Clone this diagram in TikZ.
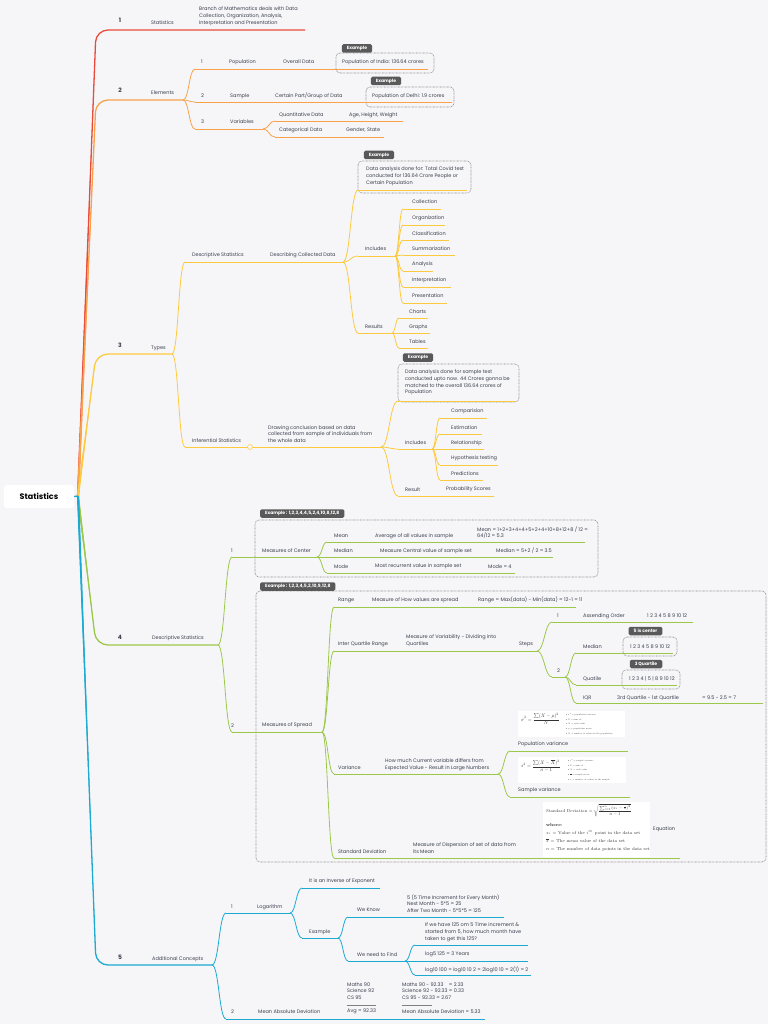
\documentclass[tikz,border=0pt]{standalone}
\usepackage{amsmath}
\usepackage{fontspec}
\newfontfamily\pop{Poppins}
\usetikzlibrary{calc}
\definecolor{bg}{HTML}{F6F6F9}
\definecolor{cred}{HTML}{EA4A3B}
\definecolor{corange}{HTML}{F9A24A}
\definecolor{cyellow}{HTML}{FDCA3E}
\definecolor{cgreen}{HTML}{9CC84A}
\definecolor{cteal}{HTML}{1AAAD2}
\definecolor{txt}{HTML}{3B3F4C}
\definecolor{tabc}{HTML}{595959}
\definecolor{boxc}{HTML}{8A8A8A}
\tikzset{
  lbl/.style={font=\pop\fontsize{5}{6.8}\selectfont, text=txt, inner sep=0pt, anchor=west, align=left},
  numl/.style={font=\pop\bfseries\fontsize{6}{7}\selectfont, text=txt, inner sep=0pt, anchor=center},
  br/.style={line width=0.8pt},
  mainbr/.style={line width=1.3pt, rounded corners=12pt},
  tabst/.style={fill=tabc, rounded corners=1.5pt, text=white, font=\pop\bfseries\fontsize{4.5}{5}\selectfont, inner xsep=5pt, inner ysep=0pt, minimum height=8.5pt, anchor=center},
  exbox/.style={draw=boxc, line width=0.6pt, dash pattern=on 0.7pt off 0.7pt, rounded corners=4pt},
  img/.style={fill=white, draw=none, inner sep=0pt, anchor=north west},
  rootst/.style={fill=white, rounded corners=3pt, minimum width=70pt, minimum height=23pt, font=\pop\bfseries\fontsize{8}{9}\selectfont, text=black},
  mathlbl/.style={inner sep=0pt, anchor=west, align=left, text=black!80},
  sep/.style={gray, line width=0.4pt, dash pattern=on 0.5pt off 0.5pt},
}
\newcommand\topic[8]{%
  \draw[br,#2] (#3,#5) coordinate (#1s) -- (#4,#5) coordinate (#1e);
  \node[lbl] (#1) at (#6,#7) {#8};}
\newcommand\conn[3]{%
  \draw[br,#1] let \p1=(#2), \p2=(#3), \n1={0.5*(\x2-\x1)} in
    (\p1) .. controls +(\n1,0) and +(-\n1,0) .. (\p2);}
\newcommand\mainbranch[4]{%
  \fill[#1] ($(hub)+(-1.1,0)$) -- ($(hub)!0.9!(96,#2)$) -- ($(hub)+(1.1,0)$) -- cycle;
  \draw[mainbr,#1] (hub) -- (96,#2) -- (#3,#2) coordinate (#4);}
\begin{document}
\begin{tikzpicture}[x=1pt,y=-1pt]
\fill[bg] (0,0) rectangle (768,1024);
\useasboundingbox (0,0) rectangle (768,1024);
\coordinate (hub) at (78,496);

% example boxes
\draw[exbox] (336,53) rectangle (434,73);
\draw[exbox] (366,87) rectangle (454,107);
\draw[exbox] (358,161) rectangle (471,193);
\draw[exbox] (398,364) rectangle (519,402);
\draw[exbox] (255,520) rectangle (598,577);
\draw[exbox] (256,591) rectangle (766,862);
\draw[exbox] (623,637) rectangle (677,656);
\draw[exbox] (622,670) rectangle (680,689);

% main branches
\mainbranch{cred}{30}{305}{b1e}
\mainbranch{corange}{100}{183}{b2e}
\mainbranch{cyellow}{354}{172}{b3e}
\mainbranch{cgreen}{645}{218}{b4e}
\mainbranch{cteal}{965}{212}{b5e}
\node[rootst] (root) at (39,496.5) {Statistics};
\draw[cteal,line width=1.3pt] (root.east) -- (hub);

\node[numl] (n1) at (120,20.5) {1};
\node[lbl] (t1) at (151,23) {Statistics};
\node[lbl] (t1d) at (199,16) {Branch of Mathematics deals with Data\\Collection, Organization, Analysis,\\Interpretation and Presentation};
\node[numl] (n2) at (120,90.5) {2};
\node[lbl] (t2) at (151,93) {Elements};
\node[numl] (n3) at (120,345.5) {3};
\node[lbl] (t3) at (151,348) {Types};
\node[numl] (n4) at (120,637) {4};
\node[lbl] (t4) at (152,638.5) {Descriptive Statistics};
\node[numl] (n5) at (120,957) {5};
\node[lbl] (t5) at (152,959.5) {Additional Concepts};

% ---- Elements
\topic{e1}{corange}{195}{428}{69}{201}{62}{1}
\node[lbl] (e1a) at (229,62) {Population};
\node[lbl] (e1b) at (283,62) {Overall Data};
\node[lbl] (e1c) at (342,62.5) {Population of India: 136.64 crores};
\node[tabst] (tabA) at (357,48.5) {Example};
\topic{e2}{corange}{195}{452}{102}{201}{96}{2}
\node[lbl] (e2a) at (230,96) {Sample};
\node[lbl] (e2b) at (275,96) {Certain Part/Group of Data};
\node[lbl] (e2c) at (372,96.5) {Population of Delhi: 1.9 crores};
\node[tabst] (tabB) at (386,81) {Example};
\topic{e3}{corange}{195}{263}{129}{201}{122}{3}
\node[lbl] (e3a) at (230,122) {Variables};
\topic{q1}{corange}{275}{403}{121}{279}{115}{Quantitative Data}
\node[lbl] (q1a) at (349,115) {Age, Height, Weight};
\topic{q2}{corange}{275}{384}{137}{279}{130.5}{Categorical Data}
\node[lbl] (q2a) at (346,130.5) {Gender, State};
\conn{corange}{b2e}{e1s}
\conn{corange}{b2e}{e2s}
\conn{corange}{b2e}{e3s}
\conn{corange}{e3e}{q1s}
\conn{corange}{e3e}{q2s}

% ---- Types
\topic{ds}{cyellow}{185}{343}{262}{192}{255}{Descriptive Statistics}
\node[lbl] (ds2) at (270,255) {Describing Collected Data};
\topic{dsx}{cyellow}{358}{467}{190}{366}{176}{Data analysis done for: Total Covid test\\conducted for 136.64 Crore People or\\Certain Population}
\node[tabst] (tabC) at (379,155) {Example};
\topic{inc}{cyellow}{358}{395}{256}{365}{249}{Includes}
\topic{c1}{cyellow}{403}{441}{209}{412}{202}{Collection}
\topic{c2}{cyellow}{403}{445}{225}{412}{218}{Organization}
\topic{c3}{cyellow}{403}{449}{240}{412}{233.5}{Classification}
\topic{c4}{cyellow}{403}{455}{255}{412}{249}{Summarization}
\topic{c5}{cyellow}{403}{433}{271}{412}{264.5}{Analysis}
\topic{c6}{cyellow}{403}{451}{287}{412}{280}{Interpretation}
\topic{c7}{cyellow}{403}{447}{303}{412}{296}{Presentation}
\topic{res}{cyellow}{358}{392}{333}{365}{327}{Results}
\topic{r1}{cyellow}{399}{428}{318}{409}{311.5}{Charts}
\topic{r2}{cyellow}{399}{430}{333}{409}{327}{Graphs}
\topic{r3}{cyellow}{399}{428}{348}{409}{342}{Tables}
\conn{cyellow}{b3e}{dss}
\conn{cyellow}{dse}{dsxs}
\conn{cyellow}{dse}{incs}
\conn{cyellow}{dse}{ress}
\foreach \k in {1,...,7}{\conn{cyellow}{ince}{c\k s}}
\foreach \k in {1,2,3}{\conn{cyellow}{rese}{r\k s}}

\topic{inf}{cyellow}{185}{381}{447}{192}{441}{Inferential Statistics}
\node[lbl] (inf2) at (268,434) {Drawing conclusion based on data\\collected from sample of individuals from\\the whole data};
\node[draw=cyellow, fill=bg, circle, inner sep=0pt, minimum size=5pt, line width=0.5pt] (infc) at (250,447) {};
\topic{ifx}{cyellow}{398}{516}{401}{405}{382.5}{Data analysis done for sample test\\conducted upto now. 44 Crores gonna be\\matched to the overall 136.64 crores of\\Population}
\node[tabst] (tabD) at (418,357.5) {Example};
\topic{inctwo}{cyellow}{398}{432}{449}{405}{443}{Includes}
\topic{i1}{cyellow}{440}{487}{418}{451}{411}{Comparision}
\topic{i2}{cyellow}{440}{482}{434}{451}{428}{Estimation}
\topic{i3}{cyellow}{440}{484}{449}{451}{443}{Relationship}
\topic{i4}{cyellow}{440}{498}{465}{451}{458.5}{Hypothesis testing}
\topic{i5}{cyellow}{440}{483}{480}{451}{474}{Predictions}
\topic{rs}{cyellow}{398}{494}{496}{405}{489.5}{Result}
\node[lbl] (rs2) at (446,489.5) {Probability Scores};
\conn{cyellow}{b3e}{infs}
\conn{cyellow}{infe}{ifxs}
\conn{cyellow}{infe}{inctwos}
\conn{cyellow}{infe}{rss}
\foreach \k in {1,...,5}{\conn{cyellow}{inctwoe}{i\k s}}

% ---- Descriptive statistics
\topic{mc}{cgreen}{232}{317}{557}{231}{550.5}{1}
\node[lbl] (mc2) at (262,551) {Measures of Center};
\node[tabst, anchor=west] (tabE) at (260,513.5) {Example : 1,2,3,4,4,5,2,4,10,8,12,8};
\topic{mean}{cgreen}{327}{585}{542}{334}{536}{Mean}
\node[lbl] (mean2) at (375,536) {Average of all values in sample};
\node[lbl] (mean3) at (477,532.5) {Mean = 1+2+3+4+4+5+2+4+10+8+12+8 / 12 =\\64/12 = 5.3};
\topic{med}{cgreen}{327}{553}{557}{334}{551}{Median}
\node[lbl] (med2) at (380,551) {Measure Central value of sample set};
\node[lbl] (med3) at (496,551) {Median = 5+2 / 2 = 3.5};
\topic{mode}{cgreen}{327}{515}{573}{334}{566.5}{Mode}
\node[lbl] (mode2) at (375,566.5) {Most recurrent value in sample set};
\node[lbl] (mode3) at (488,566.5) {Mode = 4};
\conn{cgreen}{b4e}{mcs}
\conn{cgreen}{mce}{means}
\conn{cgreen}{mce}{meds}
\conn{cgreen}{mce}{modes}

\topic{ms}{cgreen}{232}{322}{732}{231}{725.5}{2}
\node[lbl] (ms2) at (262,725.5) {Measures of Spread};
\node[tabst, anchor=west] (tabF) at (260,586.5) {Example : 1,2,3,4,5,2,10,9,12,8};
\topic{rng}{cgreen}{334}{576}{607}{338}{600}{Range}
\node[lbl] (rng2) at (372,600) {Measure of How values are spread};
\node[lbl] (rng3) at (478,600) {Range = Max(data) - Min(data) = 12-1 = 11};
\topic{iqr}{cgreen}{334}{537}{651}{338}{644}{Inter Quartile Range}
\node[lbl] (iqr2) at (406,640.5) {Measure of Variability - Dividing into\\Quartiles};
\node[lbl] (iqr3) at (519,644) {Steps};
\topic{sta}{cgreen}{552}{693}{622}{557}{616}{1}
\node[lbl] (sta1) at (583,616) {Assending Order};
\node[lbl] (sta2) at (647,616) {1 2 3 4 5 8 9 10 12};
\topic{stb}{cgreen}{552}{565}{677}{557}{671}{2}
\topic{qm}{cgreen}{576}{673}{653}{583}{646.5}{Median}
\node[lbl] (qm2) at (630,646.5) {1 2 3 4 5 8 9 10 12};
\node[tabst] (tabG) at (645.5,631) {5 is center};
\topic{qq}{cgreen}{576}{677}{685}{583}{679}{Quatile}
\node[lbl] (qq2) at (629,679) {1 2 3 4 | 5 | 8 9 10 12};
\node[tabst] (tabH) at (646,664) {3 Quartile};
\topic{qi}{cgreen}{576}{763}{703}{583}{698}{IQR}
\node[lbl] (qi2) at (617,698) {3rd Quartile - 1st Quartile};
\node[lbl] (qi3) at (702,698) {= 9.5 - 2.5 = 7};
\topic{var}{cgreen}{334}{498}{774}{338}{768}{Variance}
\node[lbl] (var2) at (385,764.5) {How much Current variable differs from\\Expected Value - Result in Large Numbers};
\node[img, minimum width=107pt, minimum height=26pt] (pvimg) at (518,711) {};
\node[mathlbl, scale=0.5, font=\fontsize{10}{12}\selectfont] (pvf) at (521,719) {$\displaystyle\sigma^2=\frac{\sum(X-\mu)^2}{N}$};
\node[mathlbl, scale=0.34, font=\fontsize{6}{14}\selectfont] (pvl) at (566,724) {$\bullet$\ $\sigma^2$ = population variance\\$\bullet$\ $\Sigma$ = sum of...\\$\bullet$\ $X$ = each value\\$\bullet$\ $\mu$ = population mean\\$\bullet$\ $N$ = number of values in the population};
\topic{pv}{cgreen}{510}{628}{751}{518}{744.5}{Population variance}
\node[img, minimum width=108pt, minimum height=26pt] (svimg) at (518,757) {};
\node[mathlbl, scale=0.5, font=\fontsize{10}{12}\selectfont] (svf) at (521,766) {$\displaystyle s^2=\frac{\sum(X-\overline{X})^2}{n-1}$};
\node[mathlbl, scale=0.34, font=\fontsize{6}{14}\selectfont] (svl) at (568,770) {$\bullet$\ $s^2$ = sample variance\\$\bullet$\ $\Sigma$ = sum of...\\$\bullet$\ $X$ = each value\\$\bullet$\ $\overline{x}$ = sample mean\\$\bullet$\ $n$ = number of values in the sample};
\topic{sv}{cgreen}{510}{630}{797}{518}{790}{Sample variance}
\topic{sd}{cgreen}{334}{680}{858}{338}{852}{Standard Deviation}
\node[lbl] (sd2) at (413,848.5) {Measure of Dispersion of set of data from\\its Mean};
\node[img, minimum width=107pt, minimum height=55pt] (sdimg) at (543,802) {};
\node[mathlbl, scale=0.6, font=\fontsize{7}{9}\selectfont] (sdf) at (546,810.5) {Standard Deviation $=\sqrt{\displaystyle\frac{\sum\nolimits_{i=1}^{n}(x_i-\overline{x})^2}{n-1}}$};
\node[mathlbl, scale=0.63, font=\fontsize{7}{12.6}\selectfont] (sdl) at (546,837) {\textbf{where:}\\$x_i$ = Value of the $i^{th}$ point in the data set\\$\overline{x}$ = The mean value of the data set\\$n$ = The number of data points in the data set};
\node[lbl] (sd3) at (653,829) {Equation};
\conn{cgreen}{b4e}{mss}
\conn{cgreen}{mse}{rngs}
\conn{cgreen}{mse}{iqrs}
\conn{cgreen}{mse}{vars}
\conn{cgreen}{mse}{sds}
\conn{cgreen}{iqre}{stas}
\conn{cgreen}{iqre}{stbs}
\conn{cgreen}{stbe}{qms}
\conn{cgreen}{stbe}{qqs}
\conn{cgreen}{stbe}{qis}
\conn{cgreen}{vare}{pvs}
\conn{cgreen}{vare}{svs}

% ---- Additional concepts
\topic{lg}{cteal}{226}{290}{913}{231}{907}{1}
\node[lbl] (lg2) at (257,907) {Logarithm};
\topic{inv}{cteal}{302}{380}{888}{309}{881.5}{It is an Inverse of Exponent}
\topic{lex}{cteal}{302}{338}{938}{309}{932}{Example}
\topic{kn}{cteal}{348}{504}{917}{357}{910}{We Know}
\node[lbl] (kn2) at (407,903.5) {5 (5 Time Increment for Every Month)\\Next Month - 5*5 = 25\\After Two Month - 5*5*5 = 125};
\topic{fd}{cteal}{348}{405}{961}{357}{954.5}{We need to Find}
\topic{fq}{cteal}{415}{528}{945}{425}{932.5}{If we have 125 om 5 Time increment \&\\started from 5, how much month have\\taken to get this 125?}
\topic{flf}{cteal}{415}{528}{961}{425}{954.5}{log5 125 = 3 Years}
\topic{flt}{cteal}{415}{531}{975}{425}{969.5}{log10 100 = log10 10 2 = 2log10 10 = 2(1) = 2}
\topic{mad}{cteal}{226}{485}{1019}{231}{1011.5}{2}
\node[lbl] (mad2) at (258,1011.5) {Mean Absolute Deviation};
\node[lbl] (mad3) at (347,991) {Maths 90\\Science 92\\CS 95};
\draw[sep] (347,1005) -- (376,1005);
\node[lbl] (mad4) at (347,1011.5) {Avg = 92.33};
\node[lbl] (mad5) at (402,991) {Maths 90 - 92.33 \ \ \ = 2.33\\Science 92 - 92.33 = 0.33\\CS 95 - 92.33 = 2.67};
\draw[sep] (402,1005) -- (432,1005);
\node[lbl] (mad6) at (402,1011.5) {Mean Absolute Deviation = 5.33};
\conn{cteal}{b5e}{lgs}
\conn{cteal}{b5e}{mads}
\conn{cteal}{lge}{invs}
\conn{cteal}{lge}{lexs}
\conn{cteal}{lexe}{kns}
\conn{cteal}{lexe}{fds}
\conn{cteal}{fde}{fqs}
\conn{cteal}{fde}{flfs}
\conn{cteal}{fde}{flts}
\end{tikzpicture}
\end{document}
